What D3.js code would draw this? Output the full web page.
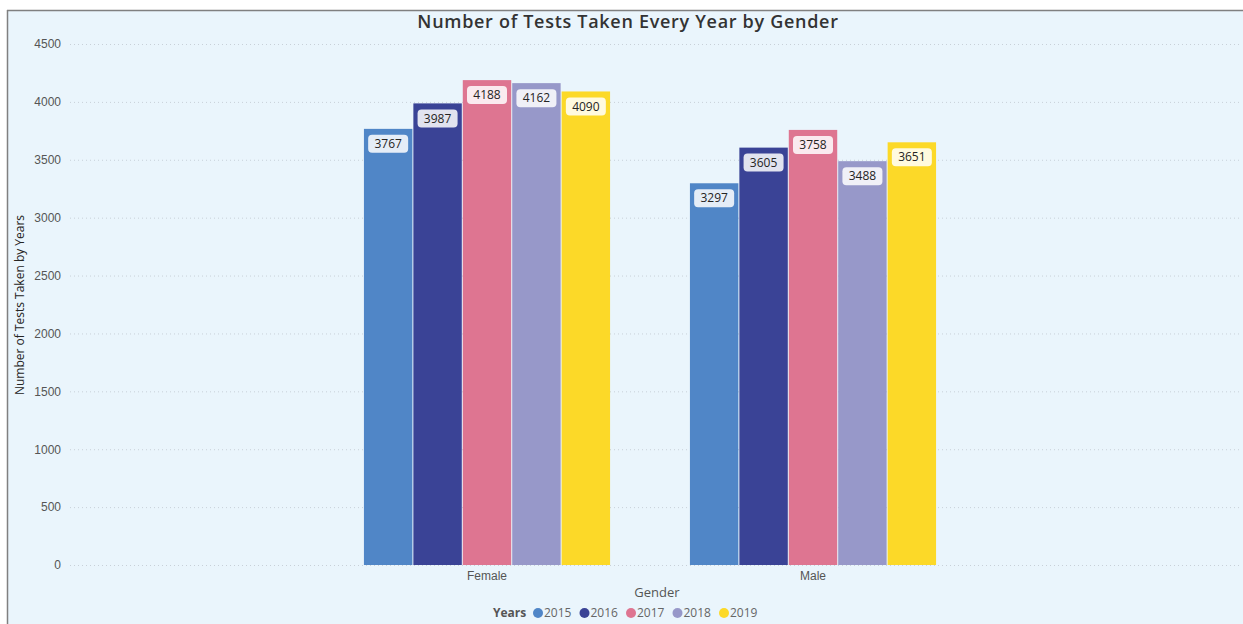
<!DOCTYPE html>
<html>
<head>
    <title>Number of Tests Taken Every Year by Gender</title>
    <script src="https://d3js.org/d3.v7.min.js"></script>
    <style>
        body { margin: 0; background: #fff; font-family: "Open Sans", sans-serif; }
        .tick text { fill: #555; font-size: 12px; }
    </style>
</head>
<body>
    <div id="chart"></div>

    <script>
        // chart data
        const genders = ["Female", "Male"];
        const years = ["2015", "2016", "2017", "2018", "2019"];
        const female = [3767, 3987, 4188, 4162, 4090];
        const male = [3297, 3605, 3758, 3488, 3651];
        const colors = ["#5086c7", "#3a4396", "#de7591", "#9798c9", "#fcd928"];
        const yTicks = [0, 500, 1000, 1500, 2000, 2500, 3000, 3500, 4000, 4500];

        const rows = genders.map((g, i) => ({
            gender: g,
            values: years.map((y, j) => ({year: y, value: (i === 0 ? female : male)[j], c: colors[j]}))
        }));

        const W = 1243, H = 624;
        const svg = d3.select("#chart").append("svg")
            .attr("width", W)
            .attr("height", H);

        // panel background and frame
        svg.append("rect").attr("x", 7).attr("y", 10).attr("width", W - 7).attr("height", H - 10)
            .attr("fill", "#eaf5fc");
        svg.append("line").attr("x1", 7).attr("x2", W).attr("y1", 10.5).attr("y2", 10.5)
            .attr("stroke", "#808080").attr("stroke-width", 1.5);
        svg.append("line").attr("x1", 7.5).attr("x2", 7.5).attr("y1", 10).attr("y2", H)
            .attr("stroke", "#808080").attr("stroke-width", 1.5);

        const mLeft = 70, mRight = 1240, mTop = 44, mBottom = 565;

        let y = d3.scaleLinear().domain([0, 4500]).range([mBottom, mTop]);
        let x0 = d3.scaleBand().domain(genders).range([mLeft - 5, mRight - 5])
            .paddingInner(0.245).paddingOuter(0.917);
        let x1 = d3.scaleBand().domain(years).range([0, x0.bandwidth()]).paddingInner(0.02);

        // grid + y ticks
        svg.append("g")
            .attr("transform", `translate(${mLeft},0)`)
            .call(d3.axisLeft(y).tickValues(yTicks).tickSize(-(mRight - mLeft)).tickFormat(d => d).tickPadding(9))
            .call(g => g.select(".domain").remove())
            .call(g => g.selectAll(".tick line").attr("stroke", "#c8d0d8").attr("stroke-dasharray", "1 3"));

        // x axis labels
        svg.append("g")
            .attr("transform", `translate(0,${mBottom})`)
            .call(d3.axisBottom(x0).tickSize(0).tickPadding(6))
            .call(g => g.select(".domain").remove());

        // bars
        let grp = svg.selectAll(".grp").data(rows).enter().append("g")
            .attr("transform", d => `translate(${x0(d.gender)},0)`);

        grp.selectAll("rect").data(d => d.values).enter().append("rect")
            .attr("x", d => x1(d.year))
            .attr("y", d => y(d.value))
            .attr("width", x1.bandwidth())
            .attr("height", d => mBottom - y(d.value))
            .attr("fill", d => d.c);

        // value labels
        let lab = grp.selectAll(".lab").data(d => d.values).enter().append("g")
            .attr("transform", d => `translate(${x1(d.year) + x1.bandwidth() / 2},${y(d.value) + 15})`);
        lab.append("rect")
            .attr("x", -20).attr("y", -9).attr("width", 40).attr("height", 18).attr("rx", 4)
            .attr("fill", "#fff").attr("fill-opacity", 0.85);
        lab.append("text")
            .attr("text-anchor", "middle").attr("dy", "0.35em")
            .attr("font-size", 12).attr("fill", "#252423")
            .text(d => d.value);

        // title
        svg.append("text")
            .attr("x", 628).attr("y", 28)
            .attr("text-anchor", "middle")
            .attr("font-size", 18).attr("font-weight", 600).attr("fill", "#333")
            .attr("letter-spacing", 0.7)
            .text("Number of Tests Taken Every Year by Gender");

        // axis titles
        svg.append("text")
            .attr("transform", "translate(24,305) rotate(-90)")
            .attr("text-anchor", "middle")
            .attr("font-size", 12).attr("fill", "#252423")
            .text("Number of Tests Taken by Years");

        svg.append("text")
            .attr("x", 657).attr("y", 597)
            .attr("text-anchor", "middle")
            .attr("font-size", 13).attr("fill", "#555")
            .text("Gender");

        // legend
        let lg = svg.append("g").attr("transform", "translate(493,613)");
        lg.append("text").attr("dy", "0.35em").attr("font-size", 12).attr("font-weight", 700).attr("fill", "#555")
            .text("Years");
        let item = lg.selectAll(".item").data(years).enter().append("g")
            .attr("transform", (d, i) => `translate(${45 + i * 46.5},0)`);
        item.append("circle").attr("r", 5).attr("fill", (d, i) => colors[i]);
        item.append("text").attr("x", 6).attr("dy", "0.35em").attr("font-size", 12).attr("fill", "#666")
            .text(d => d);
    </script>
</body>
</html>
